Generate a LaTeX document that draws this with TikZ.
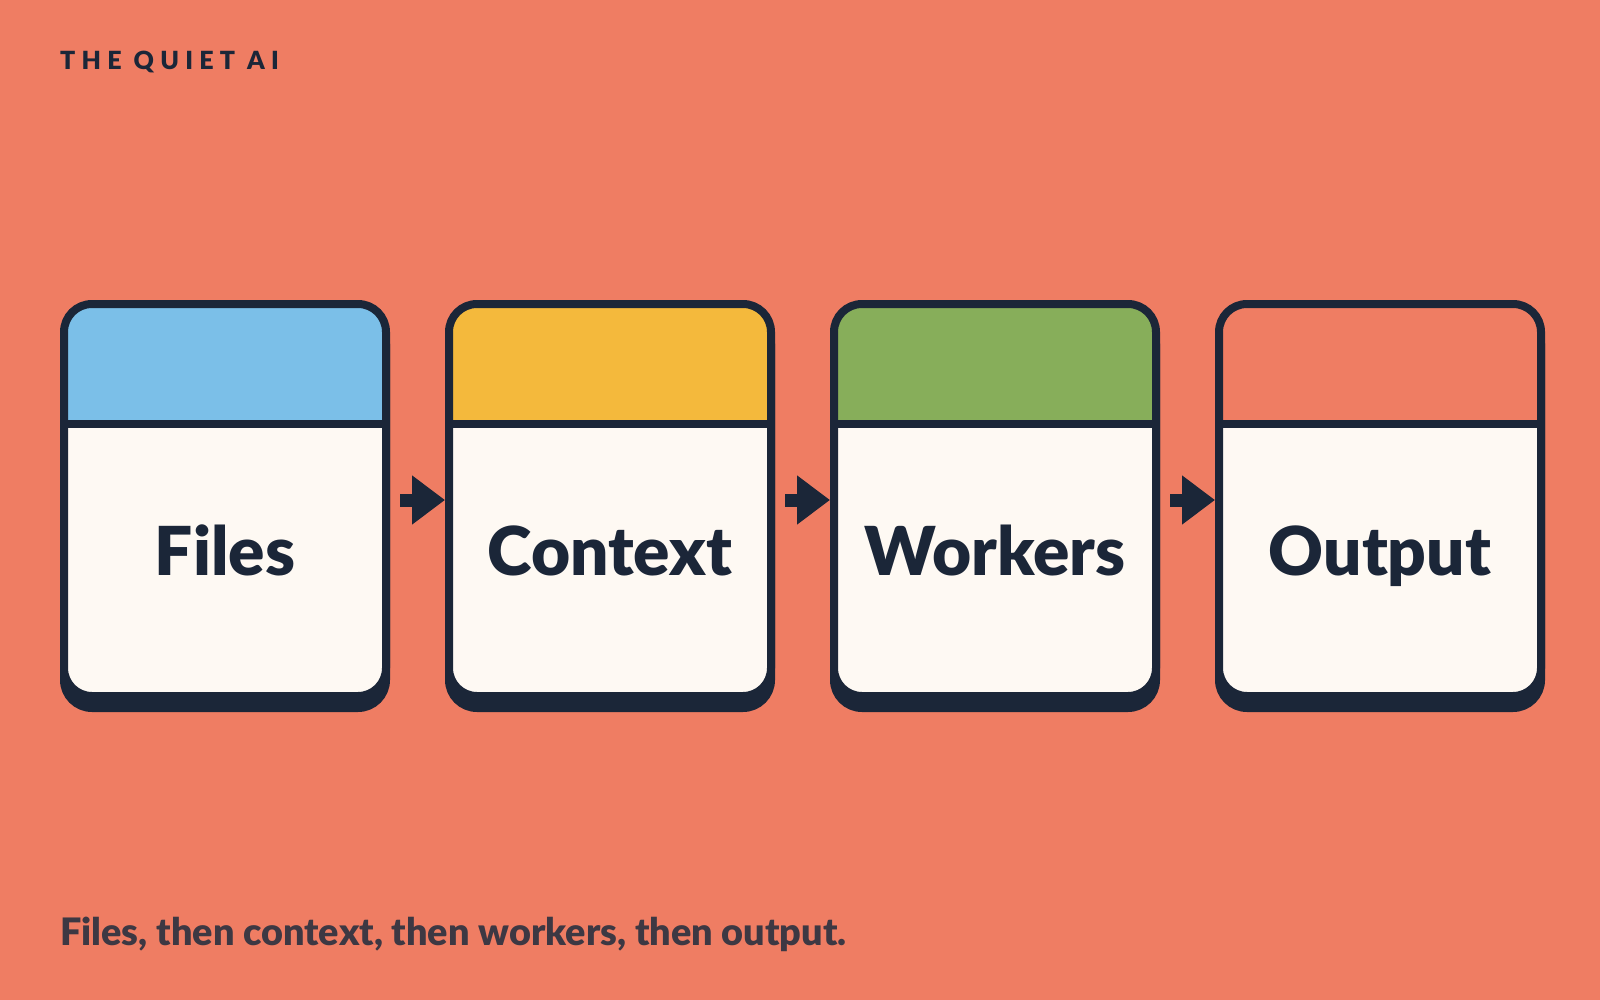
\documentclass[tikz,border=0pt]{standalone}
\usepackage{fontspec}
\setmainfont{Lato}
\newfontfamily\heavyfont{Lato Black}
\newfontfamily\titlefont[LetterSpace=25]{Lato Black}
\usetikzlibrary{arrows.meta,shadows}
\definecolor{bgc}{HTML}{EF7D63}
\definecolor{ink}{HTML}{1B2638}
\definecolor{paper}{HTML}{FEF9F3}
\definecolor{hblue}{HTML}{7BBFE8}
\definecolor{hyellow}{HTML}{F4B93C}
\definecolor{hgreen}{HTML}{87AE5A}
\definecolor{subink}{HTML}{3D3843}
\tikzset{
  stagebox/.style={draw=ink, line width=8pt, fill=paper, rounded corners=28pt,
    minimum width=322pt, minimum height=392pt, inner sep=0pt,
    drop shadow={shadow xshift=0pt, shadow yshift=-12pt, fill=ink, draw=ink, line width=8pt, opacity=1},
    path picture={
      \fill[#1, sharp corners] (path picture bounding box.north west) rectangle ([yshift=-120pt]path picture bounding box.north east);
      \draw[ink, line width=8pt, sharp corners] ([yshift=-120pt]path picture bounding box.north west) -- ([yshift=-120pt]path picture bounding box.north east);
    }},
  stagetext/.style={anchor=base, text=ink, font=\heavyfont\fontsize{67.5}{68}\selectfont, inner sep=0pt},
  flow/.style={draw=ink, line width=13pt, -{Triangle[length=33pt, width=47pt]}, color=ink}
}
\begin{document}
\begin{tikzpicture}[x=1pt, y=-1pt]
\useasboundingbox (0,0) rectangle (1600,1000);
\fill[bgc] (0,0) rectangle (1600,1000);
\node[anchor=base west, inner sep=0pt, text=ink, font=\titlefont\fontsize{25}{25}\selectfont] (title) at (60,70) {THE QUIET AI};
\node[stagebox=hblue] (files) at (225,500) {};
\node[stagebox=hyellow] (context) at (610,500) {};
\node[stagebox=hgreen] (workers) at (995,500) {};
\node[stagebox=bgc] (output) at (1380,500) {};
\node[stagetext] (filest) at (225,575) {Files};
\node[stagetext] (contextt) at (610,575) {Context};
\node[stagetext] (workerst) at (995,575) {Workers};
\node[stagetext] (outputt) at (1380,575) {Output};
\draw[flow] ([xshift=10pt]files.east) -- (context.west);
\draw[flow] ([xshift=10pt]context.east) -- (workers.west);
\draw[flow] ([xshift=10pt]workers.east) -- (output.west);
\node[anchor=base west, inner sep=0pt, text=subink, font=\heavyfont\fontsize{37.8}{38}\selectfont] (caption) at (60,945) {Files, then context, then workers, then output.};
\end{tikzpicture}
\end{document}
